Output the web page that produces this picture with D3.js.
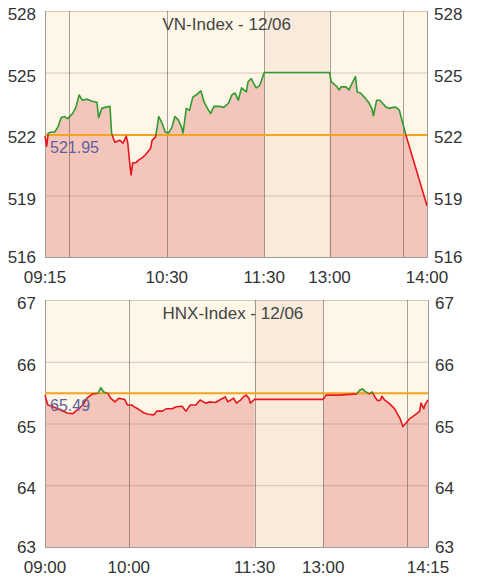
<!DOCTYPE html>
<html><head><meta charset="utf-8">
<script src="https://cdn.jsdelivr.net/npm/d3@7"></script>
<style>
body{margin:0;background:#fff}
svg{display:block}
text{font-family:"Liberation Sans",Arial,Helvetica,sans-serif}
</style>
</head><body>
<svg id="c" width="477" height="586"></svg>
<script>
// ---------- VN-Index data ----------
const vnTitle = "VN-Index - 12/06";
const vnRef = 521.95;
const vnTimes = ["09:15","09:16","09:17","09:19","09:21","09:23","09:25","09:27","09:29","09:32","09:34","09:36","09:38","09:41","09:44","09:47","09:48","09:50","09:52","09:55","09:56","09:57","09:58","10:01","10:03","10:05","10:06","10:07","10:08","10:09","10:11","10:13","10:15","10:17","10:19","10:20","10:21","10:23","10:24","10:25","10:27","10:29","10:31","10:33","10:35","10:37","10:39","10:40","10:42","10:44","10:46","10:48","10:51","10:53","10:55","10:57","10:59","11:02","11:05","11:08","11:10","11:12","11:14","11:16","11:19","11:20","11:22","11:25","11:27","11:28","11:30","13:00","13:01","13:04","13:06","13:07","13:10","13:12","13:14","13:16","13:17","13:19","13:22","13:24","13:26","13:27","13:29","13:31","13:32","13:35","13:37","13:39","13:41","13:43","13:45","13:47","14:00"];
const vnValues = [521.90,521.40,522.05,522.10,522.10,522.35,522.80,522.85,522.75,523.00,523.30,523.90,523.65,523.70,523.60,523.55,522.80,523.25,523.30,523.35,522.05,521.80,521.60,521.70,521.55,521.90,521.55,520.70,520.00,520.60,520.60,520.75,520.85,521.00,521.20,521.30,521.70,521.85,522.30,522.85,522.55,522.10,522.05,522.30,522.85,522.70,522.35,522.05,523.25,523.15,523.80,523.90,524.10,523.55,523.25,523.00,523.35,523.35,523.30,523.50,523.90,524.00,523.65,524.25,524.05,524.55,524.70,524.25,524.35,524.55,525.00,525.00,524.55,524.35,524.15,524.30,524.30,524.15,524.50,524.80,524.05,524.00,523.75,523.55,523.25,522.90,523.65,523.65,523.55,523.30,523.25,523.30,523.30,523.15,522.55,521.95,518.50];
const vnYTicks = [516,519,522,525,528];
const vnXLabels = ["09:15","10:30","11:30","13:00","14:00"];
const vnXGrid = ["09:30","10:30","11:30","13:00","13:45"];
const vnSession = ["09:15","11:30","13:00","14:00"];

// ---------- HNX-Index data ----------
const hnxTitle = "HNX-Index - 12/06";
const hnxRef = 65.49;
const hnxTimes = ["09:00","09:02","09:06","09:09","09:13","09:16","09:20","09:23","09:27","09:30","09:34","09:38","09:40","09:42","09:45","09:47","09:50","09:53","09:57","09:59","10:02","10:04","10:07","10:11","10:14","10:18","10:20","10:24","10:27","10:31","10:34","10:38","10:41","10:44","10:48","10:51","10:55","10:58","11:02","11:05","11:09","11:11","11:15","11:17","11:20","11:22","11:24","11:26","11:27","11:30","13:00","13:02","13:11","13:24","13:26","13:28","13:30","13:33","13:35","13:37","13:39","13:41","13:42","13:44","13:47","13:51","13:55","13:57","13:59","14:02","14:04","14:07","14:09","14:10","14:12","14:13","14:15"];
const hnxValues = [65.46,65.30,65.27,65.24,65.20,65.17,65.16,65.22,65.30,65.41,65.48,65.49,65.58,65.51,65.49,65.41,65.35,65.41,65.39,65.30,65.30,65.27,65.23,65.17,65.15,65.14,65.20,65.20,65.24,65.24,65.27,65.28,65.20,65.30,65.30,65.38,65.33,65.35,65.34,65.38,65.43,65.35,65.41,65.33,65.38,65.43,65.46,65.41,65.33,65.39,65.39,65.46,65.46,65.48,65.54,65.56,65.52,65.48,65.51,65.43,65.37,65.38,65.44,65.38,65.33,65.24,65.08,64.95,65.00,65.08,65.11,65.16,65.20,65.33,65.24,65.31,65.38];
const hnxYTicks = [63,64,65,66,67];
const hnxXLabels = ["09:00","10:00","11:30","13:00","14:15"];
const hnxXGrid = ["10:00","11:30","13:00","14:00"];
const hnxSession = ["09:00","11:30","13:00","14:15"];

// ---------- helpers ----------
const toMin = s => { const [h,m] = s.split(":").map(Number); return h*60+m; };
const svg = d3.select("#c");

const COL = {
  bg:"#FEF6E7", area:"#F4C6BB", lunch:"#F8EBDC",
  up:"#2E9B2E", down:"#E8161C", ref:"#F6A31E",
  refText:"#5E5F9C", text:"#333333", title:"#444444",
  vgrid:"rgba(95,85,80,0.55)", hgrid:"rgba(140,110,95,0.35)", frame:"#9C9C9C"
};

let clipId = 0;
function drawChart(cfg) {
  const {title, ref, times, values, yTicks, xLabels, xGrid, session, L, R, T, B, lunchW} = cfg;
  const dm = session.map(toMin);
  const totalMin = (dm[1]-dm[0]) + (dm[3]-dm[2]);
  const pxPerMin = (R - L - lunchW) / totalMin;
  const x1 = L + (dm[1]-dm[0]) * pxPerMin;
  const x = d3.scaleLinear().domain(dm).range([L, x1, x1 + lunchW, R]);
  const y = d3.scaleLinear().domain([yTicks[0], yTicks[yTicks.length-1]]).range([B, T]);
  const data = times.map((t,i) => ({t: toMin(t), v: values[i]}));
  const g = svg.append("g");

  g.append("rect").attr("x", L).attr("y", T).attr("width", R-L).attr("height", B-T).attr("fill", COL.bg);

  const area = d3.area().x(d => x(d.t)).y0(B).y1(d => y(d.v));
  g.append("path").datum(data).attr("d", area).attr("fill", COL.area);

  g.append("rect").attr("x", x(dm[1])).attr("y", T).attr("width", x(dm[2]) - x(dm[1])).attr("height", B-T).attr("fill", COL.lunch);

  g.selectAll(".hg").data(yTicks).join("line")
    .attr("x1", L).attr("x2", R).attr("y1", d => y(d)+0.5).attr("y2", d => y(d)+0.5)
    .attr("stroke", COL.hgrid).attr("stroke-width", 1);
  g.selectAll(".vg").data(xGrid.map(toMin)).join("line")
    .attr("x1", d => Math.round(x(d))+0.5).attr("x2", d => Math.round(x(d))+0.5).attr("y1", T).attr("y2", B)
    .attr("stroke", COL.vgrid).attr("stroke-width", 1);

  g.append("path").attr("d", `M${L+0.5},${T}V${B+0.5}H${R+0.5}V${T}`)
    .attr("fill", "none").attr("stroke", COL.frame).attr("stroke-width", 1);

  const yr = y(ref);
  g.append("line").attr("x1", L).attr("x2", R).attr("y1", yr).attr("y2", yr)
    .attr("stroke", COL.ref).attr("stroke-width", 2);

  const line = d3.line().x(d => x(d.t)).y(d => y(d.v));
  const idUp = "clipUp" + (clipId++), idDn = "clipDn" + (clipId++);
  const defs = svg.append("defs");
  defs.append("clipPath").attr("id", idUp).append("rect").attr("x", L-5).attr("y", T-5).attr("width", R-L+10).attr("height", yr-T+5);
  defs.append("clipPath").attr("id", idDn).append("rect").attr("x", L-5).attr("y", yr).attr("width", R-L+10).attr("height", B-yr+5);
  g.append("path").datum(data).attr("d", line).attr("fill", "none").attr("stroke", COL.up)
    .attr("stroke-width", 1.6).attr("stroke-linejoin", "round").attr("clip-path", `url(#${idUp})`);
  g.append("path").datum(data).attr("d", line).attr("fill", "none").attr("stroke", COL.down)
    .attr("stroke-width", 1.6).attr("stroke-linejoin", "round").attr("clip-path", `url(#${idDn})`);

  g.append("text").attr("x", L+5).attr("y", yr+18).attr("fill", COL.refText)
    .attr("font-size", 16).text(ref.toFixed(2));

  g.append("text").attr("x", 162.5).attr("y", T+18.5).attr("fill", COL.title)
    .attr("font-size", 17).text(title);

  const yOff = d => d === yTicks[0] ? 6 : 9;
  g.selectAll(".yl").data(yTicks).join("text")
    .attr("x", L-9).attr("y", d => y(d)+yOff(d)).attr("text-anchor", "end")
    .attr("fill", COL.text).attr("font-size", 17).text(d => d);
  g.selectAll(".yr").data(yTicks).join("text")
    .attr("x", R+7).attr("y", d => y(d)+yOff(d)).attr("text-anchor", "start")
    .attr("fill", COL.text).attr("font-size", 17).text(d => d);

  g.selectAll(".xl").data(xLabels).join("text")
    .attr("x", d => x(toMin(d))).attr("y", B+26).attr("text-anchor", "middle")
    .attr("fill", COL.text).attr("font-size", 17).text(d => d);
}

drawChart({title: vnTitle, ref: vnRef, times: vnTimes, values: vnValues, yTicks: vnYTicks,
  xLabels: vnXLabels, xGrid: vnXGrid, session: vnSession, L:45, R:427, T:11, B:257, lunchW:65.3});
drawChart({title: hnxTitle, ref: hnxRef, times: hnxTimes, values: hnxValues, yTicks: hnxYTicks,
  xLabels: hnxXLabels, xGrid: hnxXGrid, session: hnxSession, L:45, R:428, T:300, B:547, lunchW:68.7});
</script>
</body></html>
